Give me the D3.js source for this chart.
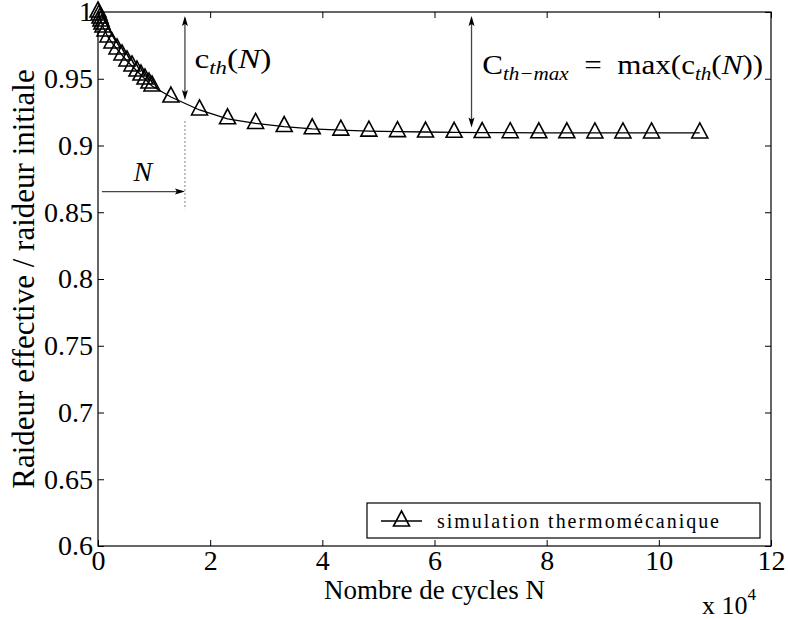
<!DOCTYPE html>
<html>
<head>
<meta charset="utf-8">
<script src="https://cdn.jsdelivr.net/npm/d3@7"></script>
<style>
  body { margin: 0; background: #fff; }
</style>
</head>
<body>
<div id="chart"></div>
<script>
// nombre de cycles N (simulation output)
var cycles = [0, 180, 360, 530, 710, 890, 1250, 1780, 2500, 3390, 4280, 5170, 6060, 6950,
  7660, 8380, 9090, 9630, 13000, 18100, 23100, 28100, 33200, 38200, 43300, 48300, 53400,
  58400, 63500, 68500, 73500, 78600, 83600, 88600, 93600, 98700, 107300];
// raideur effective / raideur initiale
var raideur = [1.0, 0.9978, 0.9955, 0.9933, 0.991, 0.9888, 0.9858, 0.9813, 0.9768, 0.9723,
  0.9678, 0.9633, 0.9596, 0.9558, 0.9528, 0.9498, 0.9468, 0.9446, 0.9363, 0.9266, 0.920,
  0.9165, 0.9142, 0.9125, 0.9115, 0.9108, 0.9104, 0.9101, 0.9099, 0.9097, 0.9096, 0.9095,
  0.9095, 0.9094, 0.9094, 0.9094, 0.9094];
var xTicks = [0, 20000, 40000, 60000, 80000, 100000, 120000];
var yTicks = [0.6, 0.65, 0.7, 0.75, 0.8, 0.85, 0.9, 0.95, 1];
var seriesName = "simulation thermomécanique";
var xTitle = "Nombre de cycles N";
var yTitle = "Raideur effective / raideur initiale";

var serif = '"Liberation Serif", "Times New Roman", serif';
var width = 788, height = 620;
var margin = {left: 98, right: 17, top: 12, bottom: 74};

var svg = d3.select("#chart").append("svg")
  .attr("width", width)
  .attr("height", height);

var x = d3.scaleLinear().domain([0, 120000]).range([margin.left, width - margin.right]);
var y = d3.scaleLinear().domain([0.6, 1]).range([height - margin.bottom, margin.top]);

// axes box
svg.append("rect")
  .attr("x", x(0)).attr("y", y(1))
  .attr("width", x(120000) - x(0)).attr("height", y(0.6) - y(1))
  .attr("fill", "none").attr("stroke", "#000").attr("stroke-width", 1.2);

function styleAxis(g, labels) {
  g.attr("font-family", serif).attr("font-size", 28);
  g.select(".domain").remove();
  g.selectAll(".tick line").attr("stroke", "#000").attr("stroke-width", 1);
  g.selectAll(".tick text").attr("fill", "#000")
    .style("font-family", serif).style("font-size", "28px");
  if (!labels) g.selectAll(".tick text").remove();
}

svg.append("g")
  .attr("transform", "translate(0," + y(0.6) + ")")
  .call(d3.axisBottom(x).tickValues(xTicks).tickSize(-6).tickPadding(4)
    .tickFormat(function(d) { return d / 10000; }))
  .call(styleAxis, true);
svg.append("g")
  .attr("transform", "translate(0," + y(1) + ")")
  .call(d3.axisTop(x).tickValues(xTicks).tickSize(-6))
  .call(styleAxis, false);
svg.append("g")
  .attr("transform", "translate(" + x(0) + ",0)")
  .call(d3.axisLeft(y).tickValues(yTicks).tickSize(-6).tickPadding(5)
    .tickFormat(function(d) { return String(+d.toFixed(2)); }))
  .call(styleAxis, true);
svg.append("g")
  .attr("transform", "translate(" + x(120000) + ",0)")
  .call(d3.axisRight(y).tickValues(yTicks).tickSize(-6))
  .call(styleAxis, false);

// axis titles
svg.append("text")
  .attr("x", (x(0) + x(120000)) / 2).attr("y", 599)
  .attr("text-anchor", "middle")
  .style("font-family", serif).style("font-size", "27px")
  .text(xTitle);
svg.append("text")
  .attr("transform", "translate(34," + (y(0.6) + y(1)) / 2 + ") rotate(-90)")
  .attr("text-anchor", "middle")
  .style("font-family", serif).style("font-size", "31px")
  .text(yTitle);
var expo = svg.append("text").attr("x", 702).attr("y", 614)
  .style("font-family", serif).style("font-size", "26px");
expo.append("tspan").text("x 10");
expo.append("tspan").attr("dy", -14).style("font-size", "17px").text("4");

// courbe + marqueurs
var pts = cycles.map(function(c, i) { return [c, raideur[i]]; });
var line = d3.line().x(function(d) { return x(d[0]); }).y(function(d) { return y(d[1]); });

svg.append("path")
  .attr("d", line(pts))
  .attr("fill", "none").attr("stroke", "#000").attr("stroke-width", 1.3);

function triangle(cx, cy) {
  var w = 16, h = 15;
  return "M" + cx + "," + (cy - 2 * h / 3) +
    "L" + (cx + w / 2) + "," + (cy + h / 3) +
    "L" + (cx - w / 2) + "," + (cy + h / 3) + "Z";
}

svg.selectAll(".marker")
  .data(pts)
  .enter().append("path")
  .attr("class", "marker")
  .attr("d", function(d) { return triangle(x(d[0]), y(d[1])); })
  .attr("fill", "none").attr("stroke", "#000").attr("stroke-width", 1.6);

// annotations
function arrowHead(px, py, dir) {
  var l = 10, w = 3;
  var p;
  if (dir === "up") p = [[px, py], [px - w, py + l], [px, py + l - 2], [px + w, py + l]];
  else if (dir === "down") p = [[px, py], [px - w, py - l], [px, py - l + 2], [px + w, py - l]];
  else p = [[px, py], [px - l, py - w], [px - l + 2, py], [px - l, py + w]];
  svg.append("path").attr("d", "M" + p.join("L") + "Z").attr("fill", "#000");
}

function vArrow(cx, v0, v1) {
  svg.append("line")
    .attr("x1", x(cx)).attr("x2", x(cx)).attr("y1", y(v0) + 4).attr("y2", y(v1) - 4)
    .attr("stroke", "#444").attr("stroke-width", 1.3);
  arrowHead(x(cx), y(v0) + 2, "up");
  arrowHead(x(cx), y(v1), "down");
}

vArrow(15500, 0.9985, 0.934);
vArrow(66600, 0.9985, 0.9135);

// dotted line at N
svg.append("line")
  .attr("x1", x(15500)).attr("x2", x(15500)).attr("y1", y(0.918)).attr("y2", y(0.852))
  .attr("stroke", "#000").attr("stroke-width", 1).attr("stroke-dasharray", "1,3");

// horizontal arrow N
svg.append("line")
  .attr("x1", x(700)).attr("x2", x(15500) - 6).attr("y1", y(0.8655)).attr("y2", y(0.8655))
  .attr("stroke", "#444").attr("stroke-width", 1.3);
arrowHead(x(15500), y(0.8655), "right");
svg.append("text")
  .attr("x", x(8000)).attr("y", y(0.8735))
  .attr("text-anchor", "middle")
  .style("font-family", serif).style("font-size", "28px").style("font-style", "italic")
  .text("N");

// c_th(N)
var cth = svg.append("text")
  .attr("x", x(17200)).attr("y", y(0.958))
  .attr("textLength", 77).attr("lengthAdjust", "spacingAndGlyphs")
  .style("font-family", serif).style("font-size", "28px");
cth.append("tspan").text("c");
cth.append("tspan").attr("dy", 6).style("font-size", "19px").style("font-style", "italic").text("th");
cth.append("tspan").attr("dy", -6).text("(");
cth.append("tspan").style("font-style", "italic").text("N");
cth.append("tspan").text(")");

// C_th-max = max(c_th(N))
var cmax = svg.append("text")
  .attr("x", x(68500)).attr("y", y(0.9535))
  .attr("textLength", 281).attr("lengthAdjust", "spacingAndGlyphs")
  .style("font-family", serif).style("font-size", "28px");
cmax.append("tspan").text("C");
cmax.append("tspan").attr("dy", 6).style("font-size", "19px").style("font-style", "italic").text("th\u2212max");
cmax.append("tspan").attr("dy", -6).text("\u2002=\u2002max(c");
cmax.append("tspan").attr("dy", 6).style("font-size", "19px").style("font-style", "italic").text("th");
cmax.append("tspan").attr("dy", -6).text("(");
cmax.append("tspan").style("font-style", "italic").text("N");
cmax.append("tspan").text("))");

// legende
var legend = svg.append("g");
legend.append("rect")
  .attr("x", 367).attr("y", 503).attr("width", 393).attr("height", 35)
  .attr("fill", "#fff").attr("stroke", "#000").attr("stroke-width", 1.2);
legend.append("line")
  .attr("x1", 381).attr("x2", 422).attr("y1", 521).attr("y2", 521)
  .attr("stroke", "#000").attr("stroke-width", 1.3);
legend.append("path")
  .attr("d", triangle(401.5, 521))
  .attr("fill", "none").attr("stroke", "#000").attr("stroke-width", 1.6);
legend.append("text")
  .attr("x", 437).attr("y", 528)
  .attr("textLength", 282).attr("lengthAdjust", "spacing")
  .style("font-family", serif).style("font-size", "20px")
  .text(seriesName);
</script>
</body>
</html>
